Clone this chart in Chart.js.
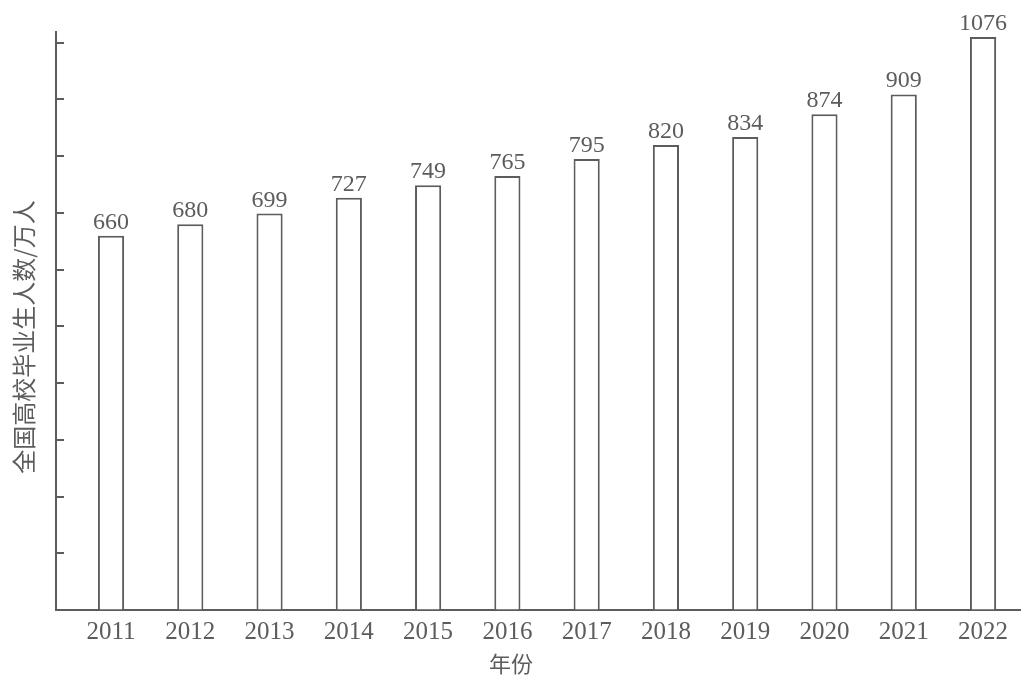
<!DOCTYPE html>
<html>
<head>
<meta charset="utf-8">
<script src="https://cdn.jsdelivr.net/npm/chart.js@4/dist/chart.umd.min.js"></script>
<style>
  html, body { margin: 0; padding: 0; background: #fff; }
</style>
</head>
<body>
<canvas id="chart" width="1021" height="677"></canvas>
<script>
'use strict';

let years = [2011, 2012, 2013, 2014, 2015, 2016, 2017, 2018, 2019, 2020, 2021, 2022];
let graduates = [660, 680, 699, 727, 749, 765, 795, 820, 834, 874, 909, 1076];
let yStep = 100;

let inkColor = '#5c5c5c';
let canvasElem = document.getElementById('chart');

// value labels above the bars, the last bar is cut off at the top like in the book figure
let barLabels = {
  id: 'barLabels',
  afterDatasetsDraw(chart) {
    let ctx = chart.ctx;
    let meta = chart.getDatasetMeta(0);
    let clipTop = chart.chartArea.top + 5;
    ctx.save();
    ctx.font = '24px "Liberation Serif"';
    ctx.fillStyle = inkColor;
    ctx.strokeStyle = inkColor;
    ctx.lineWidth = 2;
    ctx.textAlign = 'center';
    ctx.textBaseline = 'alphabetic';
    meta.data.forEach((bar, i) => {
      let top = Math.max(bar.y, clipTop);
      if (bar.y < clipTop) {
        ctx.beginPath();
        ctx.moveTo(bar.x - bar.width / 2, clipTop + 1);
        ctx.lineTo(bar.x + bar.width / 2, clipTop + 1);
        ctx.stroke();
      }
      ctx.fillText(String(graduates[i]), bar.x, top - 7);
    });
    ctx.restore();
  },
  afterDraw(chart) {
    let ctx = chart.ctx;
    let yScale = chart.scales.y;
    let left = chart.chartArea.left;
    ctx.save();
    ctx.strokeStyle = inkColor;
    ctx.lineWidth = 2;
    // tick marks point into the plot
    for (let t of yScale.ticks) {
      if (t.value === 0) continue;
      let py = Math.round(yScale.getPixelForValue(t.value));
      ctx.beginPath();
      ctx.moveTo(left, py);
      ctx.lineTo(left + 8, py);
      ctx.stroke();
    }
    // axis titles
    ctx.fillStyle = inkColor;
    ctx.textAlign = 'center';
    ctx.textBaseline = 'middle';
    ctx.font = '22px "Noto Sans CJK SC"';
    ctx.fillText('年份', 511, 664);
    ctx.translate(24, 337);
    ctx.rotate(-Math.PI / 2);
    ctx.font = '24px "Noto Sans CJK SC"';
    ctx.fillText('全国高校毕业生人数/万人', 0, 0);
    ctx.restore();
  }
};

let chartObj = {
  type: 'bar',
  data: {
    labels: years,
    datasets: [{
      data: graduates,
      backgroundColor: '#ffffff',
      borderColor: inkColor,
      borderWidth: 2,
      categoryPercentage: 1,
      barPercentage: 0.33,
      clip: { left: false, right: false, top: -5, bottom: false }
    }]
  },
  options: {
    responsive: false,
    animation: false,
    layout: { padding: { top: 32, left: 0, right: 0, bottom: 0 } },
    plugins: {
      legend: { display: false },
      tooltip: { enabled: false }
    },
    scales: {
      x: {
        type: 'linear',
        offset: false,
        min: 2010.306,
        max: 2022.479,
        afterBuildTicks(scale) {
          scale.ticks = years.map(v => ({ value: v }));
        },
        afterFit(scale) { scale.height = 67; },
        grid: { offset: false, drawOnChartArea: false, drawTicks: false },
        border: { color: inkColor, width: 2 },
        ticks: {
          color: inkColor,
          font: { family: 'Liberation Serif', size: 25 },
          padding: 7,
          autoSkip: false,
          maxRotation: 0,
          callback: v => String(v)
        }
      },
      y: {
        min: 0,
        max: 1019,
        afterFit(scale) { scale.width = 56; },
        grid: { drawOnChartArea: false, drawTicks: false },
        border: { color: inkColor, width: 2 },
        ticks: { display: false, stepSize: yStep, includeBounds: false }
      }
    }
  },
  plugins: [barLabels]
};

new Chart(canvasElem, chartObj); //eslint-disable-line
</script>
</body>
</html>
